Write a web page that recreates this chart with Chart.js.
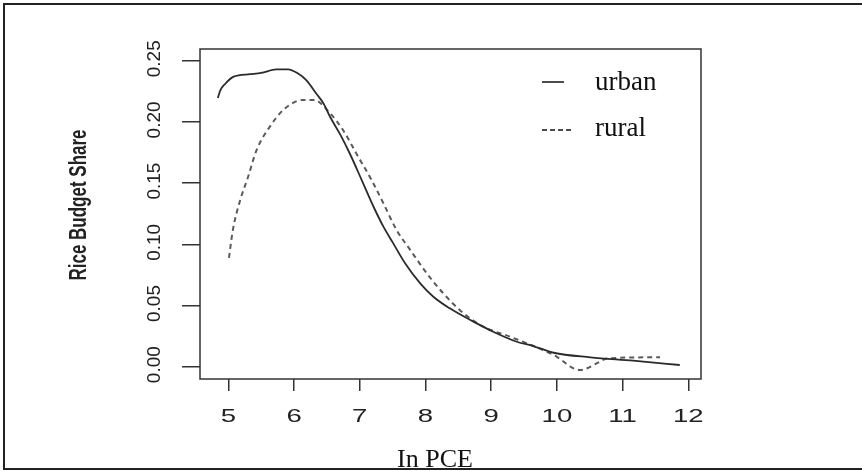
<!DOCTYPE html>
<html>
<head>
<meta charset="utf-8">
<script src="https://cdn.jsdelivr.net/npm/chart.js@4/dist/chart.umd.min.js"></script>
<style>
  body { margin: 0; background: #fff; }
  canvas { display: block; }
</style>
</head>
<body>
<canvas id="grafica" width="862" height="471"></canvas>
<script>
// curvas de participación del arroz en el gasto vs log del gasto per cápita
const urbanX = [4.84, 4.88, 4.95, 5.08, 5.33, 5.50, 5.73, 5.91, 6.05, 6.19, 6.34, 6.45, 6.55, 6.70, 6.85,
                7.03, 7.21, 7.36, 7.51, 7.69, 7.92, 8.12, 8.37, 8.73, 9.03, 9.39, 9.64, 9.95, 10.51, 11.16, 11.87];
const urbanY = [0.2195, 0.226, 0.231, 0.237, 0.239, 0.240, 0.243, 0.243, 0.240, 0.234, 0.223, 0.215, 0.204, 0.190, 0.174,
                0.1525, 0.1307, 0.1144, 0.1008, 0.0845, 0.0681, 0.0572, 0.0477, 0.0368, 0.0286, 0.0204, 0.0169, 0.0114, 0.0077, 0.0049, 0.0014];

const ruralX = [5.01, 5.07, 5.18, 5.30, 5.43, 5.63, 5.84, 6.14, 6.30, 6.55, 6.75, 6.95, 7.18, 7.36, 7.56,
                7.77, 8.02, 8.27, 8.58, 8.88, 9.29, 9.95, 10.35, 10.65, 10.76, 11.57];
const ruralY = [0.089, 0.112, 0.136, 0.155, 0.177, 0.196, 0.210, 0.218, 0.218, 0.207, 0.193, 0.174, 0.1525, 0.1335, 0.1117,
                0.0953, 0.0763, 0.060, 0.0436, 0.0327, 0.0245, 0.0096, -0.0027, 0.004, 0.0068, 0.0077];

const xTicks = [5, 6, 7, 8, 9, 10, 11, 12];
const yTicks = [0, 0.05, 0.10, 0.15, 0.20, 0.25];
const yTickLabels = ["0.00", "0.05", "0.10", "0.15", "0.20", "0.25"];

const tituloX = "In PCE";
const tituloY = "Rice Budget Share";

function puntos(xs, ys) {
    return xs.map((x, i) => ({ x: x, y: ys[i] }));
}

// textos de ejes, marco y leyenda
const marcoYTextos = {
    id: "marcoYTextos",
    afterDraw(chart) {
        const { ctx, chartArea: a } = chart;
        const x = chart.scales.x, y = chart.scales.y;
        ctx.save();

        // caja del gráfico
        ctx.strokeStyle = "#333";
        ctx.lineWidth = 1.5;
        ctx.strokeRect(a.left, a.top, a.right - a.left, a.bottom - a.top);

        // marco exterior
        ctx.strokeStyle = "#222";
        ctx.lineWidth = 2;
        ctx.strokeRect(4, 4, 880, 465);

        ctx.fillStyle = "#222";
        ctx.textAlign = "center";
        ctx.textBaseline = "middle";

        // etiquetas eje x (estiradas a lo ancho)
        ctx.font = '19px "Liberation Sans", Arial, sans-serif';
        xTicks.forEach(v => {
            ctx.save();
            ctx.translate(x.getPixelForValue(v), 417);
            ctx.scale(1.45, 1);
            ctx.fillText(String(v), 0, 0);
            ctx.restore();
        });

        // etiquetas eje y, rotadas
        ctx.font = '19px "Liberation Sans", Arial, sans-serif';
        yTicks.forEach((v, i) => {
            ctx.save();
            ctx.translate(155, y.getPixelForValue(v) - 2);
            ctx.rotate(-Math.PI / 2);
            ctx.fillText(yTickLabels[i], 0, 0);
            ctx.restore();
        });

        // título eje y
        ctx.font = 'bold 17px "Liberation Sans", Arial, sans-serif';
        ctx.save();
        ctx.translate(79, 205);
        ctx.rotate(-Math.PI / 2);
        ctx.scale(1, 1.45);
        ctx.fillText(tituloY, 0, 0);
        ctx.restore();

        // título eje x
        ctx.fillStyle = "#111";
        ctx.font = '26px "Liberation Serif", "Times New Roman", serif';
        ctx.textBaseline = "alphabetic";
        ctx.fillText(tituloX, 435, 467);

        // leyenda
        ctx.textAlign = "left";
        ctx.font = '27px "Liberation Serif", "Times New Roman", serif';
        const filas = [{ y: 82, base: 90, largo: 22 }, { y: 130, base: 136, largo: 30 }];
        chart.data.datasets.forEach((ds, i) => {
            const f = filas[i];
            ctx.strokeStyle = "#111";
            ctx.lineWidth = 1.5;
            ctx.setLineDash(ds.borderDash && ds.borderDash.length ? [5, 3] : []);
            ctx.beginPath();
            ctx.moveTo(542, f.y);
            ctx.lineTo(542 + f.largo, f.y);
            ctx.stroke();
            ctx.setLineDash([]);
            ctx.fillText(ds.label, 595, f.base);
        });

        ctx.restore();
    }
};

const ctx = document.getElementById("grafica");
new Chart(ctx, {
    type: "line",
    data: {
        datasets: [
            {
                label: "urban",
                data: puntos(urbanX, urbanY),
                borderColor: "#2b2b2b",
                borderWidth: 1.8,
                pointRadius: 0,
                cubicInterpolationMode: "monotone",
                fill: false
            },
            {
                label: "rural",
                data: puntos(ruralX, ruralY),
                borderColor: "#5a5a5a",
                borderWidth: 2,
                borderDash: [5, 4],
                pointRadius: 0,
                cubicInterpolationMode: "monotone",
                fill: false
            }
        ]
    },
    options: {
        responsive: false,
        animation: false,
        layout: { padding: { left: 0, right: 161, top: 49, bottom: 0 } },
        plugins: {
            legend: { display: false },
            tooltip: { enabled: false }
        },
        scales: {
            x: {
                type: "linear",
                min: 4.569,
                max: 12.193,
                afterBuildTicks: s => { s.ticks = xTicks.map(v => ({ value: v })); },
                afterFit: s => { s.height = 92; },
                grid: { drawOnChartArea: false, drawTicks: true, tickLength: 12, color: "#333", lineWidth: 1.5 },
                border: { display: false },
                ticks: { display: false }
            },
            y: {
                min: -0.01005,
                max: 0.2596,
                afterBuildTicks: s => { s.ticks = yTicks.map(v => ({ value: v })); },
                afterFit: s => { s.width = 200; },
                grid: { drawOnChartArea: false, drawTicks: true, tickLength: 18, color: "#333", lineWidth: 1.5 },
                border: { display: false },
                ticks: { display: false }
            }
        }
    },
    plugins: [marcoYTextos]
});
</script>
</body>
</html>
